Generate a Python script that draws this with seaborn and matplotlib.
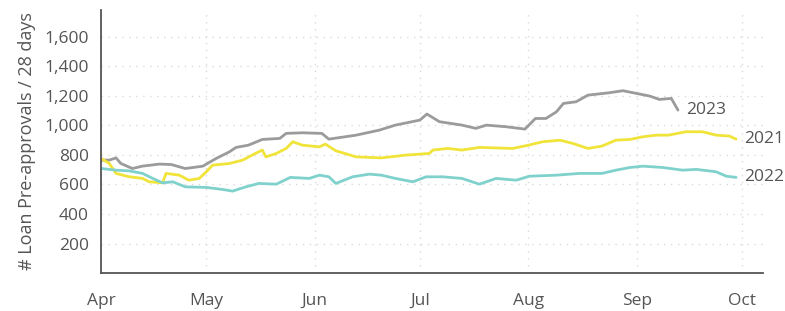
# Rolling 28-day loan pre-approvals, Apr - Oct, one line per year.

import seaborn as sns
import numpy as np
import matplotlib.pyplot as plt
import pandas as pd

# Days since 1 April and rolling values.
days_2023 = [0, 2.3, 4.2, 5.6, 8.9, 11.7, 16.6, 20, 24, 29, 32.8, 36.6, 38.5, 42, 46, 51, 52.8,
             57.5, 63, 65, 72.8, 79.4, 84, 91, 93, 96.6, 103, 107, 110, 115.6, 121, 124, 127,
             130, 132, 135.6, 139, 145, 149, 152.8, 156.6, 159.4, 162.8, 164.7]
vals_2023 = [765, 765, 780, 742, 708, 724, 738, 735, 708, 724, 776, 821, 851, 866, 905, 912, 946,
             950, 946, 907, 934, 968, 1002, 1036, 1077, 1025, 1002, 980, 1002, 991, 975, 1047, 1047,
             1092, 1149, 1160, 1205, 1221, 1235, 1217, 1199, 1176, 1183, 1104]

days_2021 = [0, 2.3, 4.2, 8, 11.8, 13.7, 17.5, 18.5, 22.3, 25, 28, 30, 31.8, 36.6, 40.4, 44, 46,
             47, 50, 52.8, 54.7, 57.5, 62.3, 64, 67, 72.8, 80, 87, 93.7, 94.7, 99, 103, 108, 117.5,
             122, 126, 131, 134.7, 139, 143, 147, 151, 154.7, 158.5, 162, 167, 171.7, 175.6,
             179.4, 181.3]
vals_2021 = [776, 742, 675, 652, 641, 618, 611, 675, 663, 629, 641, 686, 731, 742, 765, 810, 833,
             787, 810, 844, 889, 866, 855, 873, 828, 787, 780, 799, 810, 833, 844, 833, 851, 844,
             866, 889, 900, 878, 844, 860, 900, 905, 923, 934, 934, 957, 957, 934, 928, 907]

days_2022 = [0, 4.2, 8, 11.8, 14.7, 17.5, 20.4, 24, 30, 34.7, 37.5, 41.3, 45, 50, 54, 59.4, 62.3,
             65, 67, 71.8, 76.6, 80, 84, 89, 92.8, 97.5, 103, 108, 112.8, 118.5, 122.3, 130,
             136.6, 143, 147, 151, 154.7, 160.4, 166, 170, 175.6, 178.5, 181.3]
vals_2022 = [708, 697, 692, 675, 641, 611, 618, 584, 580, 566, 555, 584, 607, 602, 648, 641, 663,
             652, 607, 652, 670, 663, 641, 618, 652, 652, 641, 602, 641, 629, 656, 663, 675, 675,
             697, 715, 724, 715, 697, 702, 686, 656, 648]

years = ["2023", "2021", "2022"]
colors = ["#9b9b9b", "#f0e43a", "#7fd1cc"]
month_labels = ["Apr", "May", "Jun", "Jul", "Aug", "Sep", "Oct"]
y_ticks = [200, 400, 600, 800, 1000, 1200, 1400, 1600]

start = pd.Timestamp("2023-04-01")
frames = []
for year, d, v in zip(years, [days_2023, days_2021, days_2022], [vals_2023, vals_2021, vals_2022]):
    frames.append(pd.DataFrame({
        "date": start + pd.to_timedelta(np.array(d), unit="D"),
        "value": v,
        "year": year
    }))
df = pd.concat(frames, ignore_index=True)

sns.set_style("white")
plt.rcParams["font.family"] = ["Open Sans", "DejaVu Sans"]

fig = plt.figure(figsize=(7.85, 3.11), dpi=100)
ax = fig.add_axes([0.129, 0.122, 0.843, 0.846])

sns.lineplot(data=df, x="date", y="value", hue="year", palette=dict(zip(years, colors)),
             linewidth=2, ax=ax, legend=False, estimator=None, sort=True)

# End-of-line labels
text_col = "#555555"
for year, sub in df.groupby("year"):
    last = sub.iloc[-1]
    ax.annotate(year, (last["date"], last["value"]), xytext=(6, 0), textcoords="offset points",
                va="center", ha="left", color=text_col, fontsize=12.5)

ax.set_ylim(0, 1782)
ax.set_xlim(start, start + pd.Timedelta(days=189))
ax.set_yticks(y_ticks)
ax.set_yticklabels([f"{t:,}" for t in y_ticks])
month_ticks = pd.date_range("2023-04-01", "2023-10-01", freq="MS")
ax.set_xticks(month_ticks)
ax.set_xticklabels(month_labels)

ax.grid(True, color="#dadada", linestyle=(0, (1, 4)), linewidth=1)
for s in ["top", "right"]:
    ax.spines[s].set_visible(False)
for s in ["left", "bottom"]:
    ax.spines[s].set_color("#555555")
    ax.spines[s].set_linewidth(1.3)

ax.tick_params(axis="x", direction="out", length=6, width=1.3, color="#555555",
               labelcolor=text_col, labelsize=12.5, pad=8)
ax.tick_params(axis="y", direction="out", length=4, width=1, color="#555555",
               labelcolor=text_col, labelsize=12.5, pad=5)
ax.set_xlabel("")
ax.set_ylabel("# Loan Pre-approvals / 28 days", color=text_col, fontsize=13, labelpad=6)

plt.savefig("out.png", dpi=100)
plt.close()
